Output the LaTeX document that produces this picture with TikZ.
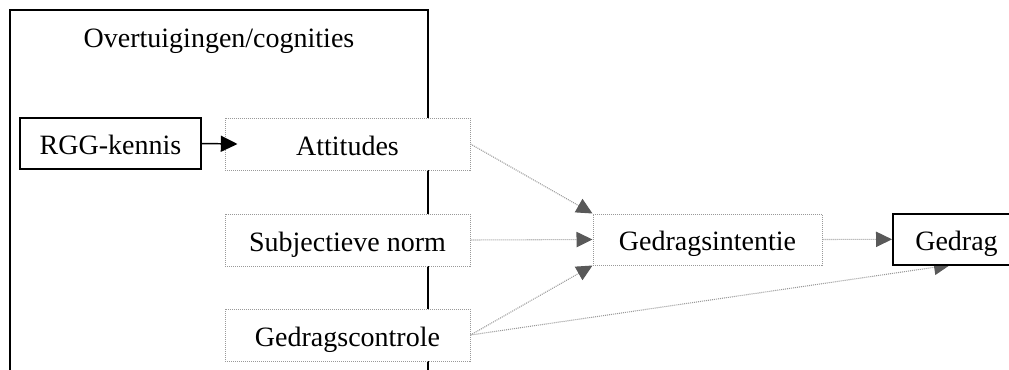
\documentclass[tikz,border=0pt]{standalone}
\usepackage{fontspec}
\setmainfont{Liberation Serif}
\usetikzlibrary{arrows.meta,backgrounds}
\definecolor{dotgray}{HTML}{999999}
\definecolor{tipgray}{HTML}{595959}
\begin{document}
\begin{tikzpicture}[x=0.75pt,y=-0.75pt,
  every node/.style={font=\fontsize{21}{25}\selectfont, inner sep=0pt, text height=17pt, text depth=0pt, align=center},
  dotbox/.style={draw=dotgray, fill=white, line width=0.75pt, dash pattern=on 0.75pt off 0.75pt},
  solidbox/.style={draw=black, fill=white, line width=0.9pt},
  thickbox/.style={draw=black, fill=white, line width=1.5pt},
  flow/.style={draw=dotgray, line width=0.8pt, dash pattern=on 0.75pt off 0.75pt, -{Triangle[length=12pt,width=11.5pt,color=tipgray]}},
  blackflow/.style={draw=black, line width=1.1pt, -{Triangle[length=12.5pt,width=12pt]}},
  frame/.style={draw=black, line width=1.2pt}
]
\useasboundingbox (0,0) rectangle (1009,369);
\node[anchor=base] (title) at (219,47) {Overtuigingen/cognities};
\node[solidbox, minimum width=135.75pt, minimum height=38.25pt] (rgg) at (110.5,143.5) {RGG-kennis};
\node[dotbox, minimum width=183.75pt, minimum height=39pt] (att) at (347.5,144) {Attitudes};
\node[dotbox, minimum width=183.75pt, minimum height=39pt] (subj) at (347.5,240) {Subjectieve norm};
\node[dotbox, minimum width=183.75pt, minimum height=39pt] (gc) at (347.5,335) {Gedragscontrole};
\node[dotbox, minimum width=171.75pt, minimum height=38.25pt] (gint) at (707.5,239.5) {Gedragsintentie};
\node[thickbox, minimum width=95.25pt, minimum height=38.25pt] (ged) at (956.5,239.3) {Gedrag};
\coordinate (gtip) at (950,265);
\begin{pgfonlayer}{background}
  \draw[frame] (10,385) -- (10,10) -- (428,10) -- (428,385);
  \draw[flow] (gc.east) -- (gtip);
\end{pgfonlayer}
\draw[blackflow] (rgg.east) -- ([xshift=9.75pt]att.west);
\draw[flow] (att.east) -- (gint.north west);
\draw[flow] (subj.east) -- (gint.west);
\draw[flow] (gc.east) -- (gint.south west);
\draw[flow] (gint.east) -- (ged.west);
\end{tikzpicture}
\end{document}
